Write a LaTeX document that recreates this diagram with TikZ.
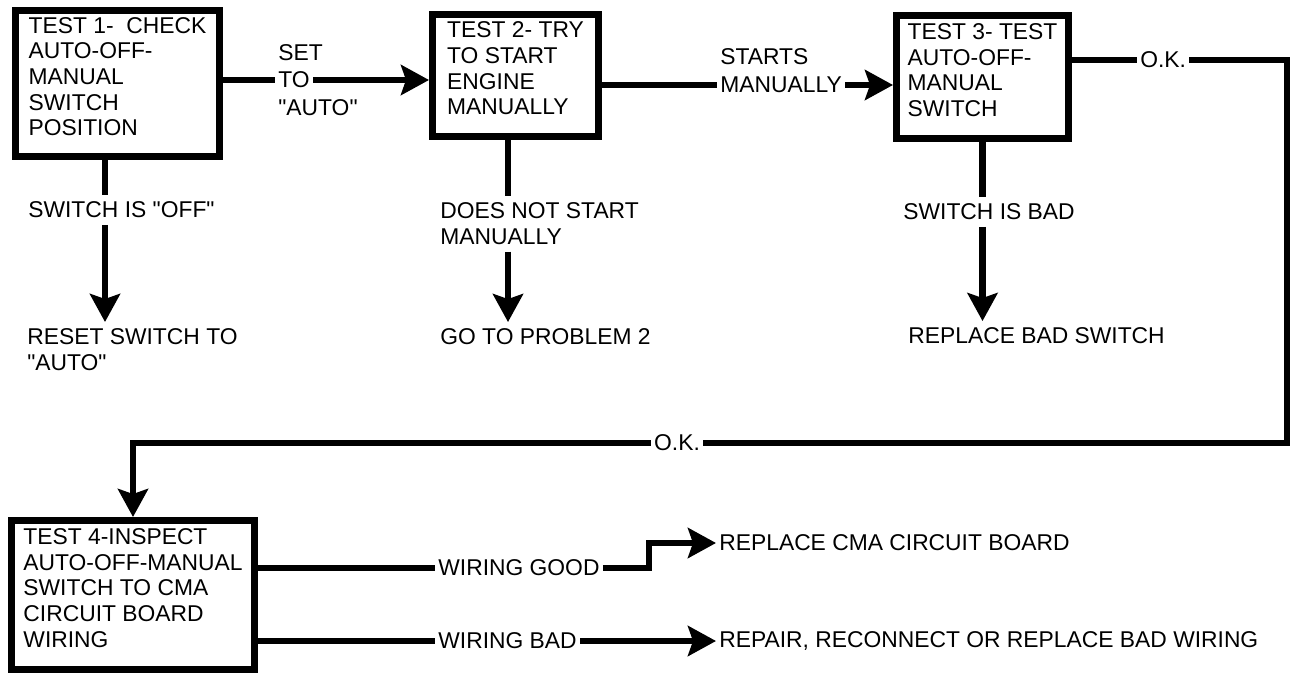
\documentclass[tikz,border=0pt]{standalone}
\usepackage{fontspec}
\setmainfont{Liberation Sans}
\usetikzlibrary{arrows.meta, positioning}

% extra room under the last line of a test box
\newcommand{\boxfoot}{\rule[-0.28cm]{0pt}{0.28cm}}
% straight double quotes
\newcommand{\qt}[1]{\textquotedbl#1\textquotedbl}

\begin{document}
\begin{tikzpicture}[
    x=0.02cm, y=-0.02cm,
    font=\fontsize{13}{14.6}\selectfont,
    testbox/.style={draw, rectangle, line width=0.14cm, align=left, inner sep=0.1cm},
    lbl/.style={inner xsep=0.06cm, inner ysep=0.13cm, align=left},
    link/.style={line width=0.13cm},
    arrow/.style={-{Stealth[length=0.56cm, width=0.6cm, inset=0.1cm]}, line width=0.13cm}
]
\useasboundingbox (0,0) rectangle (1293,675);

% Test boxes
\node [testbox, minimum width=4.08cm, minimum height=2.92cm] (test1) at (117.5,83.5) {TEST 1-\ \ CHECK\\AUTO-OFF-\\MANUAL\\SWITCH\\POSITION\boxfoot};
\node [testbox, minimum width=3.32cm, minimum height=2.44cm] (test2) at (515.5,75.5) {TEST 2- TRY\\TO START\\ENGINE\\MANUALLY\boxfoot};
\node [testbox, minimum width=3.44cm, minimum height=2.46cm] (test3) at (982.5,77) {TEST 3- TEST\\AUTO-OFF-\\MANUAL\\SWITCH\boxfoot};
\node [testbox, minimum width=4.86cm, minimum height=2.98cm] (test4) at (133,595) {TEST 4-INSPECT\\AUTO-OFF-MANUAL\\SWITCH TO CMA\\CIRCUIT BOARD\\WIRING\boxfoot};

% Labels on the top row
\node [lbl, anchor=west] (setto) at (275,80) {TO};
\node [lbl, above=-0.05cm of setto.north west, anchor=south west] (setlbl) {SET};
\node [lbl, below=-0.05cm of setto.south west, anchor=north west] (autolbl) {\qt{AUTO}};

\node [lbl, anchor=west] (startman) at (717,85) {MANUALLY};
\node [lbl, above=-0.03cm of startman.north west, anchor=south west] (startlbl) {STARTS};

\node [lbl, anchor=west] (okup) at (1137,60) {O.K.};
\node [lbl] (okdown) at (677,443) {O.K.};
\coordinate (okcorner) at (1287,443);

% Results under the boxes
\node [lbl, anchor=west] (offlbl) at (25,210) {SWITCH IS \qt{OFF}};
\node [lbl, anchor=north west] (resetlbl) at (24,322) {RESET SWITCH TO\\\qt{AUTO}};
\node [lbl, anchor=north west] (nostartlbl) at (437,196) {DOES NOT START\\MANUALLY};
\node [lbl, anchor=west] (prob2) at (437,337) {GO TO PROBLEM 2};
\node [lbl, anchor=west] (badlbl) at (900,212) {SWITCH IS BAD};
\node [lbl, anchor=west] (newswitch) at (905,336) {REPLACE BAD SWITCH};

% Results of test 4
\node [lbl, anchor=west] (goodlbl) at (435,568) {WIRING GOOD};
\node [lbl, anchor=west] (badwire) at (435,641) {WIRING BAD};
\node [lbl, anchor=west] (newboard) at (716,543) {REPLACE CMA CIRCUIT BOARD};
\node [lbl, anchor=west] (rewire) at (716,641) {REPAIR, RECONNECT OR REPLACE BAD WIRING};

\coordinate (d1) at ([xshift=-0.25cm]test1.south);
\coordinate (d2) at ([xshift=-0.15cm]test2.south);

% Arrows
\draw [link] (test1.east |- setto) -- (setto.west);
\draw [arrow] (setto.east) -- (test2.west |- setto);
\draw [link] (d1) -- (d1 |- offlbl.north);
\draw [arrow] (d1 |- offlbl.south) -- (d1 |- resetlbl.north);

\draw [link] (test2.east |- startman) -- (startman.west);
\draw [arrow] (startman.east) -- (test3.west |- startman);
\draw [link] (d2) -- (d2 |- nostartlbl.north);
\draw [arrow] (d2 |- nostartlbl.south) -- (d2 |- prob2.north);

\draw [link] (test3.east |- okup) -- (okup.west);
\draw [link] (okup.east) -| (okcorner) -- (okdown.east);
\draw [arrow] (okdown.west) -| (test4.north);
\draw [link] (test3.south) -- (test3.south |- badlbl.north);
\draw [arrow] (test3.south |- badlbl.south) -- (test3.south |- newswitch.north);

\draw [link] (test4.east |- goodlbl) -- (goodlbl.west);
\draw [arrow] (goodlbl.east) -- ++(46,0) |- (newboard.west);
\draw [link] (test4.east |- badwire) -- (badwire.west);
\draw [arrow] (badwire.east) -- (rewire.west);

\end{tikzpicture}
\end{document}
